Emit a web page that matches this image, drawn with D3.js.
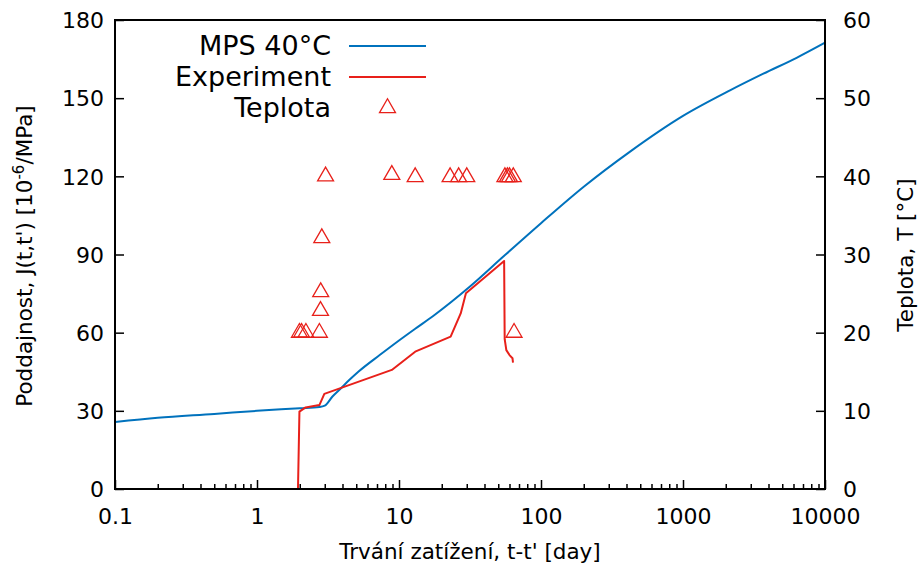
<!DOCTYPE html>
<html>
<head>
<meta charset="utf-8">
<script src="https://cdn.jsdelivr.net/npm/d3@7"></script>
<style>
  html, body { margin: 0; padding: 0; background: #fff; }
  svg { display: block; }
  text { font-family: "DejaVu Sans", sans-serif; fill: #000; }
</style>
</head>
<body>
<svg id="chart" width="921" height="569"></svg>
<script>
// ---- data ----
const mpsT = [0.1, 0.2, 0.5, 1, 2, 2.75, 3.0, 3.4, 3.84, 4.5, 5.17, 7.35, 10, 13, 17.5, 31.6, 54.3, 100, 200, 424, 1000, 2143, 3680, 6310, 10000];
const mpsJ = [25.7, 27.3, 28.8, 30.0, 31.0, 31.5, 32.0, 35.5, 38.3, 42.0, 45.0, 51.5, 57.0, 61.5, 66.5, 77.7, 89.2, 102.0, 116.0, 129.5, 143.2, 153.0, 159.4, 165.5, 171.3];

const expT = [1.944, 1.99, 2.2, 2.75, 2.98, 8.9, 13.0, 23.1, 27.2, 29.6, 55.0, 55.5, 57.0, 60.0, 63.0, 63.5];
const expJ = [0, 29.7, 31.3, 32.2, 36.5, 45.7, 52.7, 58.5, 67.4, 75.1, 87.5, 57.5, 53.3, 51.4, 50.2, 48.5];

const tempT = [1.99, 2.06, 2.21, 2.75, 2.8, 2.81, 2.86, 3.04, 8.9, 13.0, 22.9, 26.3, 30.0, 55.7, 58.0, 60.0, 63.8, 64.6];
const tempV = [20, 20, 20, 20, 22.8, 25.2, 32.1, 40.0, 40.2, 39.9, 39.9, 39.9, 39.9, 39.9, 39.9, 39.9, 39.9, 20];

const xTicks = [0.1, 1, 10, 100, 1000, 10000];
const xTickLabels = ["0.1", "1", "10", "100", "1000", "10000"];
const yTicks = [0, 30, 60, 90, 120, 150, 180];
const y2Ticks = [0, 10, 20, 30, 40, 50, 60];
const seriesNames = ["MPS 40°C", "Experiment", "Teplota"];

// ---- layout ----
const L = 115, R = 825, T = 20, B = 489;
const blue = "#0072bd", red = "#e8201a";
const svg = d3.select("#chart");

const x = d3.scaleLog().domain([0.1, 10000]).range([L, R]);
const y = d3.scaleLinear().domain([0, 180]).range([B, T]);
const y2 = d3.scaleLinear().domain([0, 60]).range([B, T]);

// minor ticks
const minor = [];
for (let d = 0.1; d < 10000; d *= 10) for (let k = 2; k <= 9; k++) minor.push(d * k);

const gx = svg.append("g").attr("transform", `translate(0,${B})`);
gx.call(d3.axisBottom(x).tickValues(minor).tickSizeInner(-5).tickSizeOuter(0).tickFormat(""));
gx.append("g").call(d3.axisBottom(x).tickValues(xTicks).tickSizeInner(-9).tickSizeOuter(0)
   .tickFormat((d, i) => xTickLabels[i]));
gx.selectAll("path.domain").remove();
gx.selectAll("line").attr("stroke", "#000").attr("stroke-width", 1.5);
gx.selectAll("text").attr("font-size", 22).attr("dy", null).attr("y", 35)
  .style("font-family", "DejaVu Sans").attr("fill", "#000");

const gy = svg.append("g").attr("transform", `translate(${L},0)`);
gy.call(d3.axisLeft(y).tickValues(yTicks).tickSizeInner(-9).tickSizeOuter(0));
gy.selectAll("path.domain").remove();
gy.selectAll("line").attr("stroke", "#000").attr("stroke-width", 1.5);
gy.selectAll("text").attr("font-size", 22).attr("dy", "0.35em").attr("x", -11)
  .style("font-family", "DejaVu Sans").attr("fill", "#000");

const gy2 = svg.append("g").attr("transform", `translate(${R},0)`);
gy2.call(d3.axisRight(y2).tickValues(y2Ticks).tickSizeInner(-9).tickSizeOuter(0));
gy2.selectAll("path.domain").remove();
gy2.selectAll("line").attr("stroke", "#000").attr("stroke-width", 1.5);
gy2.selectAll("text").attr("font-size", 22).attr("dy", "0.35em").attr("x", 18)
  .style("font-family", "DejaVu Sans").attr("fill", "#000");

// series
const mpsPts = mpsT.map((t, i) => [x(t), y(mpsJ[i])]);
const expPts = expT.map((t, i) => [x(t), y(expJ[i])]);

svg.append("path").attr("d", d3.line().curve(d3.curveMonotoneX)(mpsPts))
  .attr("fill", "none").attr("stroke", blue).attr("stroke-width", 2);
svg.append("path").attr("d", d3.line()(expPts))
  .attr("fill", "none").attr("stroke", red).attr("stroke-width", 2).attr("stroke-linejoin", "round");

const tri = d3.symbol().type(d3.symbolTriangle).size(110);
svg.append("g").selectAll("path").data(tempT).join("path")
  .attr("d", tri)
  .attr("transform", (t, i) => `translate(${x(t)},${y2(tempV[i])})`)
  .attr("fill", "none").attr("stroke", red).attr("stroke-width", 1.3);

// frame
svg.append("rect").attr("x", L).attr("y", T).attr("width", R - L).attr("height", B - T)
  .attr("fill", "none").attr("stroke", "#000").attr("stroke-width", 2);

// legend
const legY = [46, 77, 108];
seriesNames.forEach((n, i) => {
  svg.append("text").attr("x", 331).attr("y", legY[i]).attr("dy", "0.35em")
    .attr("text-anchor", "end").attr("font-size", 27).text(n);
});
svg.append("line").attr("x1", 349).attr("x2", 426).attr("y1", legY[0]).attr("y2", legY[0])
  .attr("stroke", blue).attr("stroke-width", 2);
svg.append("line").attr("x1", 349).attr("x2", 426).attr("y1", legY[1]).attr("y2", legY[1])
  .attr("stroke", red).attr("stroke-width", 2);
svg.append("path").attr("d", tri).attr("transform", `translate(387.5,${legY[2]})`)
  .attr("fill", "none").attr("stroke", red).attr("stroke-width", 1.3);

// axis titles
svg.append("text").attr("x", (L + R) / 2).attr("y", 559).attr("text-anchor", "middle")
  .attr("font-size", 21.5).text("Trvání zatížení, t-t' [day]");

const yl = svg.append("text").attr("transform", "translate(32,256) rotate(-90)")
  .attr("text-anchor", "middle").attr("font-size", 21.5);
yl.append("tspan").text("Poddajnost, J(t,t') [10");
yl.append("tspan").attr("font-size", 15).attr("dy", -8).text("-6");
yl.append("tspan").attr("dy", 8).text("/MPa]");

svg.append("text").attr("transform", "translate(913,255) rotate(-90)")
  .attr("text-anchor", "middle").attr("font-size", 21.5).text("Teplota, T [°C]");
</script>
</body>
</html>
